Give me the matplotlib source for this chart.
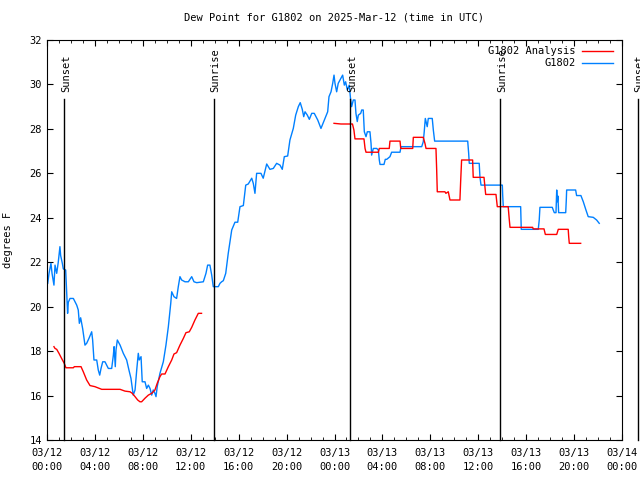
import numpy as np
import pandas as pd
import matplotlib
matplotlib.use('Agg')
import matplotlib.pyplot as plt
import matplotlib.dates as mdates

# hours after 2025-03-12 00:00 UTC, dew point in F
obs_hours = [0.06, 0.17, 0.33, 0.42, 0.58, 0.67, 0.81, 0.94, 1.08, 1.14, 1.28, 1.36, 1.56, 1.64, 1.72, 1.78,
             1.92, 2.2, 2.48, 2.61, 2.7, 2.81, 2.98, 3.17, 3.31, 3.5, 3.73, 3.81, 3.92, 4.15, 4.28, 4.4,
             4.51, 4.65, 4.84, 5.12, 5.4, 5.54, 5.6, 5.7, 5.76, 5.87, 6.1, 6.37, 6.65, 6.84, 7.01, 7.2,
             7.35, 7.49, 7.62, 7.7, 7.85, 7.95, 8.18, 8.32, 8.46, 8.6, 8.74, 8.87, 9.01, 9.1, 9.2, 9.43,
             9.71, 9.93, 10.13, 10.33, 10.41, 10.6, 10.82, 10.96, 11.1, 11.24, 11.52, 11.8, 12.08, 12.27,
             12.5, 13.05, 13.27, 13.41, 13.6, 13.75, 13.88, 14.3, 14.44, 14.58, 14.72, 14.92, 15.13, 15.42,
             15.69, 15.92, 16.11, 16.39, 16.59, 16.8, 17.09, 17.22, 17.36, 17.5, 17.86, 18.05, 18.34, 18.61,
             18.89, 19.17, 19.45, 19.64, 19.81, 20.09, 20.28, 20.56, 20.76, 20.98, 21.14, 21.31, 21.43,
             21.54, 21.73, 21.9, 22.1, 22.31, 22.6, 22.87, 23.15, 23.43, 23.54, 23.71, 23.85, 23.96, 24.04,
             24.18, 24.31, 24.46, 24.6, 24.68, 24.82, 24.93, 25.07, 25.23, 25.35, 25.43, 25.57, 25.71,
             25.79, 25.9, 25.99, 26.19, 26.27, 26.4, 26.49, 26.63, 26.74, 26.96, 27.05, 27.1, 27.24, 27.52,
             27.66, 27.74, 27.8, 28.13, 28.24, 28.36, 28.63, 28.77, 29.47, 29.55, 31.28, 31.41, 31.49,
             31.58, 31.74, 31.83, 32.16, 32.25, 32.36, 35.12, 35.2, 35.25, 36.08, 36.14, 36.23, 38.01,
             38.04, 38.09, 39.54, 39.57, 39.59, 41.01, 41.09, 41.15, 42.18, 42.26, 42.35, 42.49, 42.55,
             42.6, 42.65, 42.71, 43.3, 43.35, 43.38, 44.13, 44.21, 44.57, 44.77, 44.99, 45.18, 45.6,
             45.88, 46.1]
obs_dewpt = [21.05, 21.5, 21.95, 21.5, 20.97, 21.87, 21.5, 22.0, 22.7, 22.3, 21.95, 21.7, 21.65, 20.67, 19.7, 20.2,
             20.37, 20.37, 20.07, 19.85, 19.25, 19.5, 19.0, 18.27, 18.35, 18.57, 18.87, 18.5, 17.6, 17.6, 17.15, 16.92,
             17.22, 17.52, 17.52, 17.22, 17.22, 17.82, 18.2, 17.3, 18.05, 18.5, 18.27, 17.9, 17.6, 17.15, 16.77, 16.02,
             16.25, 17.15, 17.9, 17.6, 17.75, 16.62, 16.62, 16.32, 16.47, 16.32, 16.02, 16.25, 16.1, 15.95, 16.4, 17.0,
             17.52, 18.27, 19.1, 20.15, 20.67, 20.45, 20.37, 20.9, 21.35, 21.2, 21.12, 21.12, 21.35, 21.12,
             21.08, 21.12, 21.5, 21.87, 21.87, 21.42, 20.9, 20.9, 21.05, 21.12, 21.17, 21.5, 22.4, 23.45,
             23.8, 23.8, 24.5, 24.55, 25.47, 25.52, 25.78, 25.55, 25.1, 26.0, 26.0, 25.78, 26.42, 26.18,
             26.22, 26.45, 26.37, 26.18, 26.75, 26.78, 27.5, 28.02, 28.62, 29.0, 29.18, 28.88, 28.55,
             28.77, 28.62, 28.43, 28.7, 28.7, 28.4, 28.02, 28.4, 28.77, 29.45, 29.67, 30.05, 30.42, 30.05,
             29.67, 30.05, 30.2, 30.35, 30.42, 29.97, 30.12, 29.75, 29.97, 29.3, 29.0, 29.3, 29.3,
             28.7, 28.33, 28.62, 28.7, 28.85, 28.85, 27.87, 27.65, 27.87, 27.87, 27.35, 26.82, 27.12, 27.12,
             27.05, 26.6, 26.4, 26.4, 26.63, 26.63, 26.75, 26.95, 26.95, 27.2, 27.2, 27.42, 27.87,
             28.47, 28.1, 28.47, 28.47, 27.95, 27.45, 27.45, 26.9, 26.45, 26.45, 25.85, 25.47, 25.47,
             25.02, 24.5, 24.5, 23.98, 23.48, 23.48, 23.9, 24.47, 24.47, 24.35, 24.23, 24.23, 25.25,
             24.72, 24.98, 24.23, 24.23, 24.8, 25.25, 25.25, 25.0, 25.0, 24.72, 24.35, 24.05, 24.02,
             23.9, 23.75]

ana_hours = [0.58, 0.67, 0.81, 1.0, 1.22, 1.44, 1.58, 2.2, 2.28, 2.84, 3.03, 3.31, 3.59, 4.0, 4.57, 6.1,
             6.51, 6.93, 7.12, 7.35, 7.57, 7.76, 7.9, 8.18, 8.46, 8.74, 9.01, 9.2, 9.43, 9.57, 9.85, 10.13,
             10.41, 10.6, 10.82, 11.1, 11.38, 11.6, 11.88, 12.08, 12.35, 12.63, 12.9, 18.0,
             23.96, 24.54, 25.5, 25.62, 25.71, 26.46, 26.55, 26.63, 27.66, 27.74, 28.57, 28.63, 29.47,
             29.53, 30.53, 30.58, 31.41, 31.55, 31.64, 32.47, 32.53, 32.58, 33.22, 33.3, 33.5, 33.64,
             34.47, 34.53, 34.61, 35.53, 35.58, 36.48, 36.62, 37.48, 37.59, 38.5, 38.58, 38.65, 40.54,
             40.59, 41.49, 41.6, 42.55, 42.68, 43.51, 43.55, 43.6, 44.55]
ana_dewpt = [18.2, 18.12, 18.08, 17.9, 17.67, 17.45, 17.25, 17.25, 17.3, 17.3, 17.07, 16.7, 16.45, 16.4, 16.28, 16.28,
             16.2, 16.17, 16.1, 15.95, 15.8, 15.72, 15.72, 15.88, 16.02, 16.1, 16.25, 16.55, 16.85, 16.97, 16.97, 17.3,
             17.6, 17.87, 17.93, 18.27, 18.57, 18.83, 18.87, 19.07, 19.4, 19.7, 19.7, np.nan,
             28.25, 28.22, 28.22, 27.95, 27.55, 27.55, 27.12, 26.95, 26.95, 27.12, 27.12, 27.45, 27.45,
             27.12, 27.12, 27.62, 27.62, 27.35, 27.12, 27.12, 26.15, 25.17, 25.17, 25.1, 25.17, 24.8,
             24.8, 25.62, 26.6, 26.6, 25.82, 25.82, 25.05, 25.05, 24.5, 24.5, 23.98, 23.57, 23.57,
             23.5, 23.5, 23.25, 23.25, 23.48, 23.48, 23.15, 22.85, 22.85]

sun_labels = ['Sunset', 'Sunrise', 'Sunset', 'Sunrise', 'Sunset']
sun_hours = [1.42, 13.9, 25.33, 37.8, 49.3]

start = pd.Timestamp('2025-03-12 00:00')
def to_time(hours):
    return start + pd.to_timedelta(np.array(hours), unit='h')

plt.rcParams['font.family'] = 'DejaVu Sans Mono'
plt.rcParams['font.size'] = 7

fig = plt.figure(figsize=(6.4, 4.8), dpi=100)
ax = fig.add_axes([47/640, 40/480, 575/640, 400/480])

ax.plot(to_time(obs_hours), obs_dewpt, color='#0080ff', lw=1, label='G1802')
ax.plot(to_time(ana_hours), ana_dewpt, color='#ff0000', lw=1, label='G1802 Analysis')

for lab, h in zip(sun_labels, sun_hours):
    t = to_time([h])[0]
    ax.plot([t, t], [14, 29.35], color='black', lw=1, clip_on=False)
    ax.text(t + pd.Timedelta(minutes=10), 29.65, lab, rotation=90, ha='center', va='bottom',
            fontsize=7.5, clip_on=False)

ax.set_xlim(start, start + pd.Timedelta(hours=48))
ax.set_ylim(14, 32)
ax.set_yticks(np.arange(14, 33, 2))
ax.xaxis.set_major_locator(mdates.HourLocator(byhour=range(0, 24, 4)))
ax.xaxis.set_minor_locator(mdates.HourLocator())
ax.xaxis.set_major_formatter(mdates.DateFormatter('%m/%d\n%H:%M'))
ax.tick_params(which='both', direction='in', top=True, right=True, labelsize=7.5)
ax.tick_params(which='major', length=4)
ax.tick_params(which='minor', length=2)
ax.tick_params(axis='x', pad=6)
for lbl in ax.get_xticklabels():
    lbl.set_linespacing(1.5)

ax.set_ylabel('degrees F', fontsize=7.5, labelpad=12)
ax.set_title('Dew Point for G1802 on 2025-Mar-12 (time in UTC)', fontsize=7.5, pad=14)

h, l = ax.get_legend_handles_labels()
ax.legend(h[::-1], l[::-1], loc='upper right', frameon=False, markerfirst=False,
          fontsize=7.5, handlelength=3.0, handletextpad=0.6, borderaxespad=0.2,
          labelspacing=0.2, bbox_to_anchor=(0.995, 1.0))

fig.savefig('out.png', dpi=100)
